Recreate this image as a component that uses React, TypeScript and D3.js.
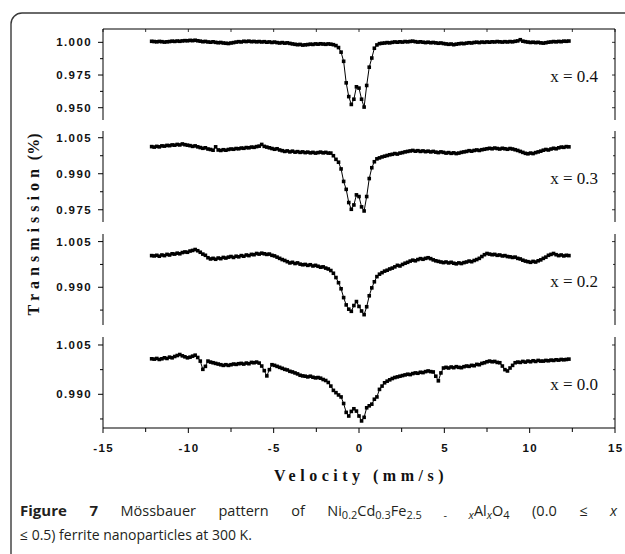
import React, { useEffect, useRef } from "react";
import * as d3 from "d3";

// Velocity channel grid (mm/s)
const V_START = -12.15;
const V_STEP = 0.15;

// Transmission values (one value per channel)
const trans04 = [
  1.0008, 1.0006, 1.0004, 1.0007, 1.0005, 1.0002, 1.0004, 1.0006, 1.0009, 1.0007,
  1.0010, 1.0008, 1.0011, 1.0013, 1.0012, 1.0015, 1.0013, 1.0016, 1.0012, 1.0009,
  1.0005, 1.0007, 1.0003, 1.0001, 1.0004, 1.0000, 0.9997, 0.9999, 0.9995, 0.9993,
  0.9991, 0.9995, 0.9998, 1.0002, 1.0005, 1.0003, 1.0008, 1.0006, 1.0009, 1.0005,
  1.0007, 1.0004, 1.0006, 1.0003, 1.0005, 1.0001, 1.0003, 0.9999, 1.0002, 0.9998,
  0.9995, 0.9998, 0.9994, 0.9996, 0.9992, 0.9988, 0.9985, 0.9982, 0.9984, 0.9979,
  0.9981, 0.9983, 0.9986, 0.9984, 0.9988, 0.9986, 0.9989, 0.9987, 0.9985, 0.9988,
  0.9986, 0.9982, 0.9975, 0.9960, 0.9925, 0.9855, 0.9690, 0.9585, 0.9525, 0.9565,
  0.9660, 0.9650, 0.9565, 0.9505, 0.9670, 0.9810, 0.9880, 0.9955, 0.9980, 0.9990,
  0.9993, 0.9995, 0.9998, 0.9996, 1.0000, 1.0003, 1.0001, 1.0004, 1.0002, 1.0006,
  1.0004, 1.0007, 1.0009, 1.0005, 1.0002, 1.0004, 1.0001, 0.9998, 1.0001, 0.9997,
  0.9999, 0.9996, 0.9993, 0.9995, 0.9991, 0.9988, 0.9985, 0.9987, 0.9982, 0.9986,
  0.9989, 0.9992, 0.9990, 0.9994, 0.9997, 0.9995, 0.9999, 1.0001, 0.9998, 1.0002,
  1.0000, 1.0003, 1.0001, 1.0004, 1.0003, 1.0006, 1.0004, 1.0002, 1.0005, 1.0003,
  1.0006, 1.0004, 1.0008, 1.0011, 1.0020, 1.0009, 1.0005, 1.0002, 0.9999, 1.0001,
  0.9998, 1.0000, 0.9996, 0.9994, 0.9997, 1.0001, 1.0003, 1.0006, 1.0004, 1.0007,
  1.0005, 1.0009, 1.0008, 1.0010,
];

const trans03 = [
  1.0013, 1.0011, 1.0014, 1.0012, 1.0016, 1.0015, 1.0018, 1.0017, 1.0020, 1.0019,
  1.0022, 1.0020, 1.0024, 1.0021, 1.0019, 1.0017, 1.0014, 1.0016, 1.0012, 1.0009,
  1.0006, 1.0008, 1.0003, 1.0001, 0.9998, 1.0012, 0.9999, 0.9997, 1.0000, 0.9998,
  1.0001, 1.0003, 1.0002, 1.0005, 1.0004, 1.0007, 1.0006, 1.0009, 1.0008, 1.0011,
  1.0010, 1.0013, 1.0015, 1.0022, 1.0014, 1.0011, 1.0008, 1.0005, 1.0002, 1.0004,
  0.9999, 0.9996, 0.9993, 0.9995, 0.9991, 0.9994, 0.9990, 0.9992, 0.9989, 0.9991,
  0.9988, 0.9990, 0.9987, 0.9989, 0.9986, 0.9988, 0.9990, 0.9987, 0.9989, 0.9986,
  0.9986, 0.9975, 0.9960, 0.9948, 0.9920, 0.9868, 0.9835, 0.9780, 0.9752, 0.9770,
  0.9812, 0.9805, 0.9762, 0.9745, 0.9805, 0.9880, 0.9925, 0.9950, 0.9962, 0.9966,
  0.9970, 0.9973, 0.9976, 0.9979, 0.9981, 0.9984, 0.9982, 0.9986, 0.9988, 0.9991,
  0.9993, 0.9995, 0.9997, 0.9994, 0.9996, 0.9993, 0.9995, 0.9992, 0.9994, 0.9991,
  0.9993, 0.9990, 0.9988, 0.9991, 0.9989, 0.9986, 0.9988, 0.9985, 0.9987, 0.9984,
  0.9986, 0.9989, 0.9991, 0.9993, 0.9996, 0.9994, 0.9997, 0.9999, 0.9997, 1.0000,
  1.0002, 1.0004, 1.0006, 1.0004, 1.0007, 1.0005, 1.0003, 1.0006, 1.0004, 1.0002,
  1.0005, 1.0003, 1.0000, 0.9997, 0.9993, 0.9989, 0.9985, 0.9983, 0.9986, 0.9984,
  0.9988, 0.9991, 0.9994, 0.9998, 1.0001, 0.9999, 1.0003, 1.0006, 1.0004, 1.0008,
  1.0011, 1.0010, 1.0013, 1.0012,
];

const trans02 = [
  1.0004, 1.0003, 1.0005, 1.0002, 1.0006, 1.0004, 1.0008, 1.0006, 1.0010, 1.0009,
  1.0012, 1.0010, 1.0014, 1.0016, 1.0015, 1.0019, 1.0021, 1.0024, 1.0020, 1.0015,
  1.0009, 1.0005, 0.9997, 0.9993, 0.9995, 0.9992, 0.9996, 0.9994, 0.9998, 0.9996,
  0.9999, 1.0001, 0.9998, 1.0002, 1.0000, 1.0004, 1.0002, 1.0006, 1.0004, 1.0008,
  1.0007, 1.0011, 1.0009, 1.0012, 1.0010, 1.0008, 1.0009, 1.0005, 1.0003, 0.9999,
  0.9995, 0.9991, 0.9988, 0.9984, 0.9980, 0.9982, 0.9978, 0.9980, 0.9976, 0.9974,
  0.9975, 0.9972, 0.9974, 0.9970, 0.9972, 0.9969, 0.9966, 0.9967, 0.9963, 0.9960,
  0.9955, 0.9946, 0.9932, 0.9915, 0.9895, 0.9866, 0.9842, 0.9828, 0.9821, 0.9840,
  0.9853, 0.9837, 0.9822, 0.9810, 0.9836, 0.9872, 0.9898, 0.9918, 0.9935, 0.9943,
  0.9948, 0.9953, 0.9956, 0.9960, 0.9963, 0.9967, 0.9972, 0.9970, 0.9975, 0.9979,
  0.9982, 0.9986, 0.9989, 0.9987, 0.9991, 0.9994, 0.9992, 0.9995, 0.9997, 0.9994,
  0.9990, 0.9987, 0.9985, 0.9983, 0.9981, 0.9983, 0.9980, 0.9982, 0.9979, 0.9977,
  0.9980, 0.9978, 0.9981, 0.9983, 0.9986, 0.9984, 0.9988, 0.9991, 0.9995, 1.0001,
  1.0007, 1.0011, 1.0009, 1.0007, 1.0008, 1.0005, 1.0006, 1.0003, 1.0004, 1.0001,
  1.0000, 0.9998, 0.9999, 0.9995, 0.9993, 0.9989, 0.9986, 0.9984, 0.9982, 0.9985,
  0.9983, 0.9987, 0.9990, 0.9995, 0.9999, 1.0005, 1.0008, 1.0011, 1.0007, 1.0004,
  1.0006, 1.0003, 1.0005, 1.0004,
];

const trans00 = [
  1.0008, 1.0007, 1.0009, 1.0006, 1.0008, 1.0011, 1.0009, 1.0013, 1.0011, 1.0015,
  1.0018, 1.0021, 1.0017, 1.0014, 1.0011, 1.0013, 1.0016, 1.0019, 1.0012, 1.0001,
  0.9976, 0.9985, 1.0001, 0.9998, 0.9996, 0.9994, 0.9992, 0.9990, 0.9988, 0.9990,
  0.9988, 0.9990, 0.9992, 0.9991, 0.9993, 0.9994, 0.9992, 0.9995, 0.9993, 0.9997,
  0.9996, 0.9998, 0.9995, 0.9986, 0.9972, 0.9956, 0.9975, 0.9990, 0.9988, 0.9985,
  0.9982, 0.9979, 0.9976, 0.9974, 0.9970, 0.9968, 0.9965, 0.9962, 0.9958, 0.9956,
  0.9955, 0.9953, 0.9955, 0.9952, 0.9950, 0.9951, 0.9949, 0.9945, 0.9942, 0.9936,
  0.9925, 0.9912, 0.9905, 0.9898, 0.9892, 0.9872, 0.9845, 0.9834, 0.9848, 0.9856,
  0.9849, 0.9834, 0.9819, 0.9830, 0.9859, 0.9865, 0.9870, 0.9885, 0.9892, 0.9915,
  0.9925, 0.9935, 0.9940, 0.9944, 0.9948, 0.9951, 0.9953, 0.9955, 0.9957, 0.9959,
  0.9961, 0.9960, 0.9963, 0.9965, 0.9964, 0.9967, 0.9966, 0.9969, 0.9971, 0.9969,
  0.9968, 0.9955, 0.9941, 0.9965, 0.9980, 0.9982, 0.9980, 0.9983, 0.9981, 0.9984,
  0.9982, 0.9981, 0.9984, 0.9986, 0.9985, 0.9988, 0.9987, 0.9991, 0.9990, 0.9994,
  0.9996, 0.9999, 1.0001, 0.9999, 1.0000, 0.9997, 0.9996, 0.9986, 0.9975, 0.9971,
  0.9980, 0.9988, 0.9996, 0.9998, 0.9997, 1.0000, 0.9998, 1.0001, 0.9999, 1.0002,
  1.0000, 1.0003, 1.0001, 1.0001, 1.0003, 1.0002, 1.0004, 1.0003, 1.0005, 1.0004,
  1.0006, 1.0005, 1.0006, 1.0007,
];

const panelSeries = [trans04, trans03, trans02, trans00];
const panelLabels = ["x = 0.4", "x = 0.3", "x = 0.2", "x = 0.0"];
const panelDomains: [number, number][] = [
  [0.9406, 1.0102],
  [0.9699, 1.0078],
  [0.9776, 1.0075],
  [0.97975, 1.00743],
];
const panelMajorTicks = [
  [1.0, 0.975, 0.95],
  [1.005, 0.99, 0.975],
  [1.005, 0.99],
  [1.005, 0.99],
];
const panelMinorTicks = [
  [0.9875, 0.9625],
  [0.9975, 0.9825],
  [0.9975, 0.9825],
  [0.9975, 0.9825],
];
const xMajorTicks = [-15, -10, -5, 0, 5, 10, 15];
const xMinorTicks = [-12.5, -7.5, -2.5, 2.5, 7.5, 12.5];

const W = 625;
const H = 554;
const PLOT_L = 103;
const PLOT_R = 615;
const PANEL_TOPS = [29, 131, 234, 337];
const PANEL_H = 91;

const SANS = "'Liberation Sans', Arial, sans-serif";
const SERIF = "'Liberation Serif', 'Times New Roman', serif";
const CAP = "'Open Sans', sans-serif";

export default function App() {
  const x = d3.scaleLinear().domain([-15, 15]).range([PLOT_L, PLOT_R]);
  const fmt = d3.format(".3f");
  const bottom = PANEL_TOPS[3] + PANEL_H;
  const capRef = useRef<SVGTextElement>(null);

  useEffect(() => {
    const el = capRef.current;
    if (!el) return;
    el.setAttribute("word-spacing", "0");
    const bb = el.getBBox();
    const target = 598;
    const spaces = (el.textContent || "").split(" ").length - 1;
    const ws = (target - bb.width) / Math.max(1, spaces);
    el.setAttribute("word-spacing", String(Math.max(0, ws)));
  }, []);

  return (
    <svg
      width={W}
      height={H}
      style={{ position: "absolute", left: 0, top: 0, background: "#fff" }}
    >
      <rect x={0} y={0} width={W} height={H} fill="#fff" />
      <rect
        x={11}
        y={13}
        width={700}
        height={560}
        rx={11}
        fill="none"
        stroke="#3a3a3a"
        strokeWidth={1.4}
      />

      {/* top frame with inward ticks */}
      <line x1={PLOT_L} x2={PLOT_R} y1={PANEL_TOPS[0]} y2={PANEL_TOPS[0]} stroke="#000" strokeWidth={1} />
      {xMajorTicks.concat(xMinorTicks).map((t) => (
        <line key={"tt" + t} x1={x(t)} x2={x(t)} y1={PANEL_TOPS[0]} y2={PANEL_TOPS[0] + 3} stroke="#000" strokeWidth={0.8} />
      ))}

      {panelSeries.map((vals, p) => {
        const top = PANEL_TOPS[p];
        const y = d3.scaleLinear().domain(panelDomains[p]).range([top + PANEL_H, top]);
        const pts: [number, number][] = vals.map((t, i) => [x(V_START + i * V_STEP), y(t)]);
        const line = d3.line()(pts) || "";
        return (
          <g key={p}>
            <line x1={PLOT_L} x2={PLOT_L} y1={top} y2={top + PANEL_H} stroke="#000" strokeWidth={1} />
            <line x1={PLOT_R} x2={PLOT_R} y1={top} y2={top + PANEL_H} stroke="#000" strokeWidth={1} />
            {panelMajorTicks[p].map((t) => (
              <g key={"mj" + t}>
                <line x1={PLOT_L - 5} x2={PLOT_L} y1={y(t)} y2={y(t)} stroke="#000" strokeWidth={1} />
                <line x1={PLOT_R - 3} x2={PLOT_R} y1={y(t)} y2={y(t)} stroke="#000" strokeWidth={0.8} />
                <text
                  x={PLOT_L - 11}
                  y={y(t) + 4}
                  textAnchor="end"
                  fontFamily={SANS}
                  fontWeight="bold"
                  fontSize={11.5}
                  letterSpacing={1.4}
                  fill="#111"
                >
                  {fmt(t)}
                </text>
              </g>
            ))}
            {panelMinorTicks[p].map((t) => (
              <g key={"mn" + t}>
                <line x1={PLOT_L - 3} x2={PLOT_L} y1={y(t)} y2={y(t)} stroke="#000" strokeWidth={1} />
                <line x1={PLOT_R - 2} x2={PLOT_R} y1={y(t)} y2={y(t)} stroke="#000" strokeWidth={0.8} />
              </g>
            ))}
            <path d={line} fill="none" stroke="#000" strokeWidth={1} />
            {pts.map(([px, py], i) => (
              <rect key={i} x={px - 1.8} y={py - 1.8} width={3.6} height={3.6} fill="#000" />
            ))}
            <text
              x={598}
              y={top + 53}
              textAnchor="end"
              fontFamily={SERIF}
              fontSize={17}
              fill="#111"
            >
              {panelLabels[p]}
            </text>
          </g>
        );
      })}

      {/* bottom axis */}
      <line x1={PLOT_L} x2={PLOT_R} y1={bottom} y2={bottom} stroke="#000" strokeWidth={1.2} />
      {xMajorTicks.map((t) => (
        <g key={"bx" + t}>
          <line x1={x(t)} x2={x(t)} y1={bottom} y2={bottom + 5} stroke="#000" strokeWidth={1} />
          <text
            x={x(t) + 0.7}
            y={bottom + 24}
            textAnchor="middle"
            fontFamily={SANS}
            fontWeight="bold"
            fontSize={11.5}
            letterSpacing={1.4}
            fill="#111"
          >
            {t}
          </text>
        </g>
      ))}
      {xMinorTicks.map((t) => (
        <line key={"bm" + t} x1={x(t)} x2={x(t)} y1={bottom} y2={bottom + 4} stroke="#000" strokeWidth={1} />
      ))}

      <text
        x={(PLOT_L + PLOT_R) / 2 + 2}
        y={481}
        textAnchor="middle"
        fontFamily={SERIF}
        fontWeight="bold"
        fontSize={16}
        letterSpacing={4.5}
        fill="#111"
      >
        Velocity (mm/s)
      </text>

      <text
        transform={`translate(39, ${(PANEL_TOPS[0] + bottom) / 2 - 4}) rotate(-90)`}
        textAnchor="middle"
        fontFamily={SERIF}
        fontWeight="bold"
        fontSize={16}
        fill="#111"
      >
        <tspan letterSpacing={5}>Transmission</tspan>
        <tspan letterSpacing={0}> (%)</tspan>
      </text>

      {/* caption */}
      <text ref={capRef} x={20} y={516} fontFamily={CAP} fontSize={14.5} fill="#231f20">
        <tspan fontWeight="bold" fontSize={15}>Figure 7</tspan>
        <tspan> Mössbauer pattern of Ni</tspan>
        <tspan fontSize={11} dy={3}>0.2</tspan>
        <tspan dy={-3}>Cd</tspan>
        <tspan fontSize={11} dy={3}>0.3</tspan>
        <tspan dy={-3}>Fe</tspan>
        <tspan fontSize={11} dy={3}>2.5 - </tspan>
        <tspan fontSize={11} fontStyle="italic">x</tspan>
        <tspan dy={-3}>Al</tspan>
        <tspan fontSize={11} dy={3} fontStyle="italic">x</tspan>
        <tspan dy={-3}>O</tspan>
        <tspan fontSize={11} dy={3}>4</tspan>
        <tspan dy={-3}> (0.0 ≤ </tspan>
        <tspan fontStyle="italic">x</tspan>
      </text>
      <text x={20} y={540} fontFamily={CAP} fontSize={14} fill="#231f20">
        ≤ 0.5) ferrite nanoparticles at 300 K.
      </text>
    </svg>
  );
}
